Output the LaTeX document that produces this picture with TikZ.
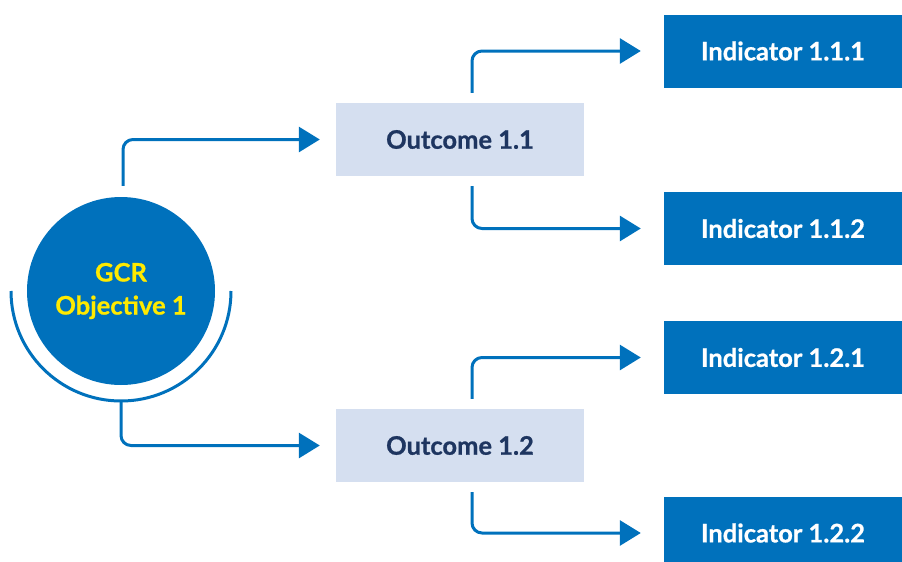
\documentclass[tikz,border=0pt]{standalone}
\usepackage{fontspec}
\setmainfont{Lato}[BoldFeatures={FakeBold=0.8}]
\usetikzlibrary{arrows.meta,positioning}
\definecolor{MainClr}{HTML}{0071BC}
\definecolor{LightClr}{HTML}{D5DFF0}
\definecolor{TextClr}{HTML}{1E3560}
\definecolor{GoldClr}{HTML}{FFEA00}

\begin{document}
\begin{tikzpicture}[x=1pt,y=-1pt,
  boxfont/.style={font=\fontsize{25.5}{33}\selectfont\bfseries},
  outbox/.style={boxfont,fill=LightClr,text=TextClr,minimum width=248pt,minimum height=73pt},
  indbox/.style={boxfont,fill=MainClr,text=white,minimum width=238pt,minimum height=73pt},
  link/.style={draw=MainClr,line width=3pt,rounded corners=10pt,-{Triangle[length=21pt,width=25pt]}}]
\clip (0,0) rectangle (902,562);

\node[circle,fill=MainClr,minimum size=188pt,text=GoldClr,align=center,boxfont] (gcr) at (121,291) {GCR\\Objective 1};
\draw[MainClr,line width=3pt] (gcr.center) ++(110,0) arc[start angle=0,end angle=-180,radius=110pt];
\coordinate (gcrtop) at ([xshift=2pt,yshift=11pt]gcr.north);
\coordinate (gcrbot) at ([yshift=-110pt]gcr.center);

\node[outbox] (out1) at (460,139.5) {Outcome 1.1};
\node[outbox] (out2) at (460,445.5) {Outcome 1.2};

\node[indbox] (ind11) at (783,51) {Indicator 1.1.1};
\node[indbox] (ind12) at (783,228.5) {Indicator 1.1.2};
\node[indbox] (ind21) at (783,357.5) {Indicator 1.2.1};
\node[indbox] (ind22) at (783,533) {Indicator 1.2.2};

\draw[link,shorten >=16pt] (gcrtop) |- (out1.west);
\draw[link,shorten >=16pt] (gcrbot) |- (out2.west);

\draw[link,shorten >=23pt] ([xshift=12pt,yshift=10pt]out1.north) |- (ind11.west);
\draw[link,shorten >=23pt] ([xshift=12pt,yshift=-10pt]out1.south) |- (ind12.west);
\draw[link,shorten >=23pt] ([xshift=12pt,yshift=10pt]out2.north) |- (ind21.west);
\draw[link,shorten >=23pt] ([xshift=12pt,yshift=-10pt]out2.south) |- (ind22.west);

\end{tikzpicture}
\end{document}
